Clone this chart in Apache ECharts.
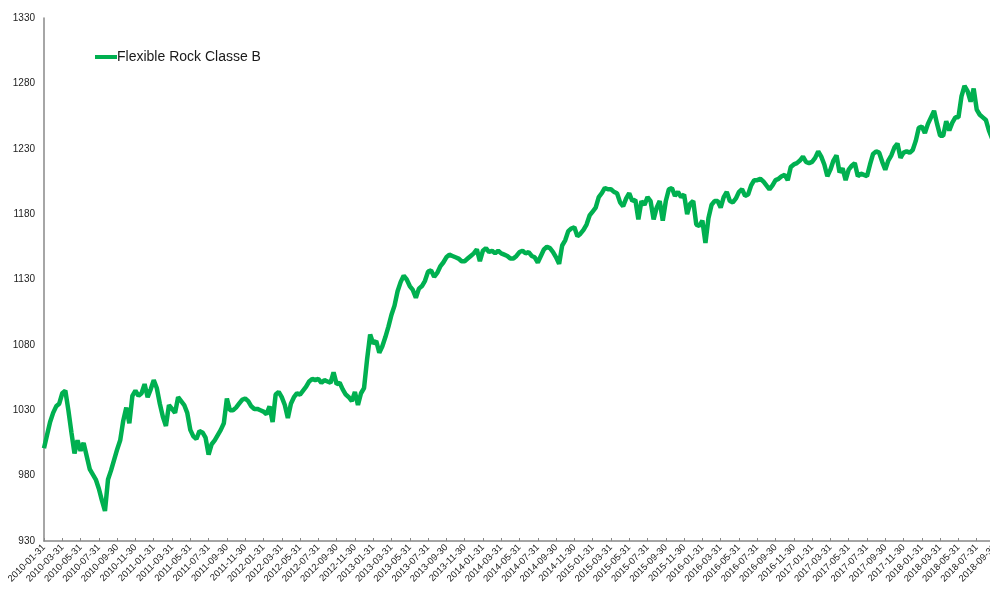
<!DOCTYPE html>
<html>
<head>
<meta charset="utf-8">
<script src="https://cdn.jsdelivr.net/npm/echarts@6/dist/echarts.min.js"></script>
<style>
html,body{margin:0;padding:0;background:#fff;}
#chart{width:990px;height:599px;}
</style>
</head>
<body>
<div id="chart"></div>
<script>
// Series name
var seriesName = 'Flexible Rock Classe B';

// Values, three readings per month starting 2010-01-31
var v2010 = [1001,1011,1021,1028,1033,1035,1043,1045,1030,1013,997,1007,999,1005,995,985,981,977,970,961,953,977,984,992,1000,1007,1022,1032,1020,1041,1045,1041,1043,1050,1040,1046];
var v2011 = [1053,1047,1035,1025,1018,1034,1031,1028,1040,1037,1034,1028,1015,1010,1008,1014,1013,1009,996,1004,1007,1011,1015,1020,1039,1030,1030,1032,1035,1038,1039,1037,1033,1031,1031,1030];
var v2012 = [1029,1027,1033,1021,1042,1044,1040,1034,1024,1035,1040,1043,1042,1045,1048,1052,1054,1053,1054,1051,1053,1052,1051,1059,1050,1051,1046,1042,1040,1037,1044,1034,1043,1047,1069,1088];
var v2013 = [1081,1083,1074,1079,1086,1094,1103,1110,1121,1128,1133,1130,1125,1122,1116,1123,1125,1129,1136,1137,1132,1135,1140,1143,1147,1149,1148,1147,1146,1144,1144,1146,1148,1150,1153,1144];
var v2014 = [1152,1154,1151,1152,1150,1152,1150,1149,1148,1146,1146,1148,1151,1152,1150,1151,1148,1147,1143,1148,1153,1155,1154,1151,1147,1142,1156,1160,1167,1169,1170,1163,1165,1168,1172,1179];
var v2015 = [1182,1185,1193,1196,1200,1199,1199,1197,1196,1189,1186,1192,1196,1190,1191,1176,1190,1187,1193,1190,1176,1185,1190,1175,1190,1199,1200,1194,1197,1193,1195,1180,1188,1190,1172,1171];
var v2016 = [1175,1158,1177,1187,1190,1190,1185,1193,1197,1190,1189,1192,1197,1199,1194,1195,1202,1206,1206,1207,1205,1202,1199,1202,1206,1207,1209,1210,1206,1216,1218,1219,1221,1224,1220,1219];
var v2017 = [1220,1223,1228,1224,1218,1209,1214,1221,1225,1212,1215,1206,1214,1217,1219,1209,1211,1210,1209,1218,1226,1228,1227,1220,1214,1221,1225,1231,1234,1223,1227,1228,1227,1229,1236,1246];
var v2018 = [1247,1242,1249,1254,1259,1249,1240,1240,1251,1244,1250,1254,1254,1270,1278,1274,1266,1276,1260,1256,1254,1252,1244,1238];

// Tick labels (every second month end)
var xTickLabels = ['2010-01-31','2010-03-31','2010-05-31','2010-07-31','2010-09-30','2010-11-30',
'2011-01-31','2011-03-31','2011-05-31','2011-07-31','2011-09-30','2011-11-30',
'2012-01-31','2012-03-31','2012-05-31','2012-07-31','2012-09-30','2012-11-30',
'2013-01-31','2013-03-31','2013-05-31','2013-07-31','2013-09-30','2013-11-30',
'2014-01-31','2014-03-31','2014-05-31','2014-07-31','2014-09-30','2014-11-30',
'2015-01-31','2015-03-31','2015-05-31','2015-07-31','2015-09-30','2015-11-30',
'2016-01-31','2016-03-31','2016-05-31','2016-07-31','2016-09-30','2016-11-30',
'2017-01-31','2017-03-31','2017-05-31','2017-07-31','2017-09-30','2017-11-30',
'2018-01-31','2018-03-31','2018-05-31','2018-07-31','2018-09-30'];
var yTicks = [930,980,1030,1080,1130,1180,1230,1280,1330];

var allValues = [].concat(v2010,v2011,v2012,v2013,v2014,v2015,v2016,v2017,v2018);
var seriesData = allValues.map(function(v,i){ return [i/3, v]; });

var font = "'Liberation Sans Narrow','Liberation Sans',Arial,sans-serif";
var chart = echarts.init(document.getElementById('chart'), null, {renderer:'canvas'});
chart.setOption({
  animation:false,
  backgroundColor:'#ffffff',
  grid:{left:44, right:-5, top:18, bottom:58, containLabel:false, outerBoundsMode:'none'},
  legend:{
    data:[seriesName], left:95, top:50, padding:0, icon:'rect', itemWidth:22, itemHeight:4, itemGap:0,
    textStyle:{fontFamily:font, fontSize:14, color:'#1a1a1a', padding:[0,0,0,-5]}
  },
  xAxis:{
    type:'value', min:0, max:(xTickLabels.length-1)*2, interval:2,
    splitLine:{show:false},
    axisLine:{lineStyle:{color:'#888888', width:1.5}},
    axisTick:{show:true, inside:true, length:3, lineStyle:{color:'#888888'}},
    axisLabel:{rotate:45, fontFamily:font, fontSize:9.5, color:'#222', margin:5, showMaxLabel:true, showMinLabel:true, hideOverlap:false,
      formatter:function(v){ var k=Math.round(v/2); return xTickLabels[k]||''; }}
  },
  yAxis:{
    type:'value', min:yTicks[0], max:yTicks[yTicks.length-1],
    splitLine:{show:false},
    axisLine:{show:true, lineStyle:{color:'#888888', width:1.5}},
    axisTick:{show:false, customValues:yTicks},
    axisLabel:{customValues:yTicks, fontFamily:font, fontSize:10, color:'#222', margin:9,
      formatter:function(v){ return String(v); }}
  },
  series:[{
    name:seriesName, type:'line', data:seriesData, showSymbol:false, symbol:'none',
    lineStyle:{color:'#00B050', width:4.5}, itemStyle:{color:'#00B050'}
  }]
});
</script>
</body>
</html>
